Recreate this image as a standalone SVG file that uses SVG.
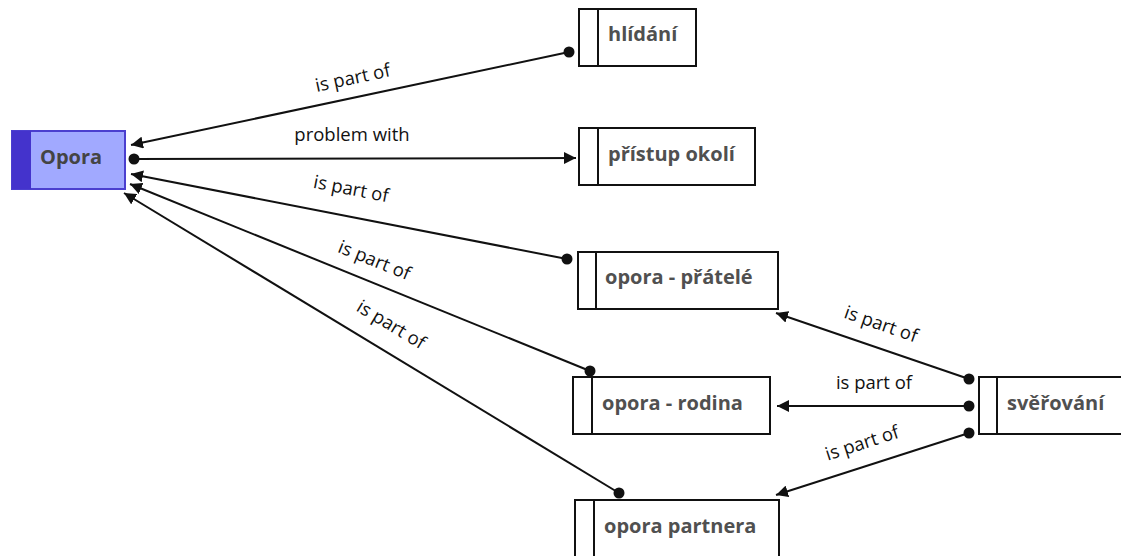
<svg xmlns="http://www.w3.org/2000/svg" width="1121" height="556" viewBox="0 0 1121 556">
<defs>
<style>
.box{fill:#fff;stroke:#111;stroke-width:2}
.nt{font-family:"Open Sans","Noto Sans",sans-serif;font-weight:bold;font-size:20px;fill:#505050}
.el{font-family:"Open Sans","Noto Sans",sans-serif;font-size:18.5px;fill:#111}
.ln{stroke:#111;stroke-width:2;fill:none;marker-start:url(#dot);marker-end:url(#arr)}
</style>
<marker id="arr" viewBox="0 0 12 12" refX="12" refY="6" markerWidth="12" markerHeight="12" markerUnits="userSpaceOnUse" orient="auto"><path d="M0,0 L12,6 L0,12 Z" fill="#111"/></marker>
<marker id="dot" viewBox="0 0 12 12" refX="6" refY="6" markerWidth="12" markerHeight="12" markerUnits="userSpaceOnUse"><circle cx="6" cy="6" r="5.5" fill="#111"/></marker>
</defs>
<g id="connectors">
<line class="ln" x1="569" y1="52" x2="131" y2="145"/>
<text class="el" transform="translate(354,84) rotate(-12)" text-anchor="middle">is part of</text>
<line class="ln" x1="134" y1="159" x2="576" y2="158"/>
<text class="el" x="352" y="141" text-anchor="middle">problem with</text>
<line class="ln" x1="567" y1="259" x2="131" y2="174"/>
<text class="el" transform="translate(350,195) rotate(11)" text-anchor="middle">is part of</text>
<line class="ln" x1="590" y1="371" x2="130" y2="184"/>
<text class="el" transform="translate(372,266) rotate(22)" text-anchor="middle">is part of</text>
<line class="ln" x1="619" y1="493" x2="124" y2="193"/>
<text class="el" transform="translate(388,330) rotate(31)" text-anchor="middle">is part of</text>
<line class="ln" x1="969" y1="379" x2="776" y2="313"/>
<text class="el" transform="translate(879,330) rotate(19)" text-anchor="middle">is part of</text>
<line class="ln" x1="969" y1="406" x2="777" y2="406"/>
<text class="el" x="874" y="389" text-anchor="middle">is part of</text>
<line class="ln" x1="969" y1="433" x2="776" y2="495"/>
<text class="el" transform="translate(864,449) rotate(-18)" text-anchor="middle">is part of</text>
</g>
<g id="n-opora">
<rect x="12" y="131" width="113" height="58" fill="#a1a9ff" stroke="#4b3fcf" stroke-width="2"/>
<rect x="12" y="131" width="19" height="58" fill="#4433cc"/>
<text class="nt" x="40" y="164" style="fill:#444">Opora</text>
</g>
<g id="n-hlidani">
<rect class="box" x="579" y="9" width="117" height="57"/>
<line x1="598" y1="9" x2="598" y2="66" stroke="#111" stroke-width="2"/>
<text class="nt" x="608" y="41">hlídání</text>
</g>
<g id="n-pristup">
<rect class="box" x="579" y="128" width="176" height="57"/>
<line x1="598" y1="128" x2="598" y2="185" stroke="#111" stroke-width="2"/>
<text class="nt" x="608" y="161">přístup okolí</text>
</g>
<g id="n-pratele">
<rect class="box" x="578" y="252" width="200" height="57"/>
<line x1="596" y1="252" x2="596" y2="309" stroke="#111" stroke-width="2"/>
<text class="nt" x="605" y="284">opora - přátelé</text>
</g>
<g id="n-rodina">
<rect class="box" x="573" y="377" width="197" height="57"/>
<line x1="592" y1="377" x2="592" y2="434" stroke="#111" stroke-width="2"/>
<text class="nt" x="602" y="410">opora - rodina</text>
</g>
<g id="n-partnera">
<rect class="box" x="575" y="500" width="204" height="60"/>
<line x1="594" y1="500" x2="594" y2="560" stroke="#111" stroke-width="2"/>
<text class="nt" x="604" y="533">opora partnera</text>
</g>
<g id="n-sverovani">
<rect class="box" x="979" y="377" width="150" height="57"/>
<line x1="997" y1="377" x2="997" y2="434" stroke="#111" stroke-width="2"/>
<text class="nt" x="1007" y="410">svěřování</text>
</g>
</svg>
